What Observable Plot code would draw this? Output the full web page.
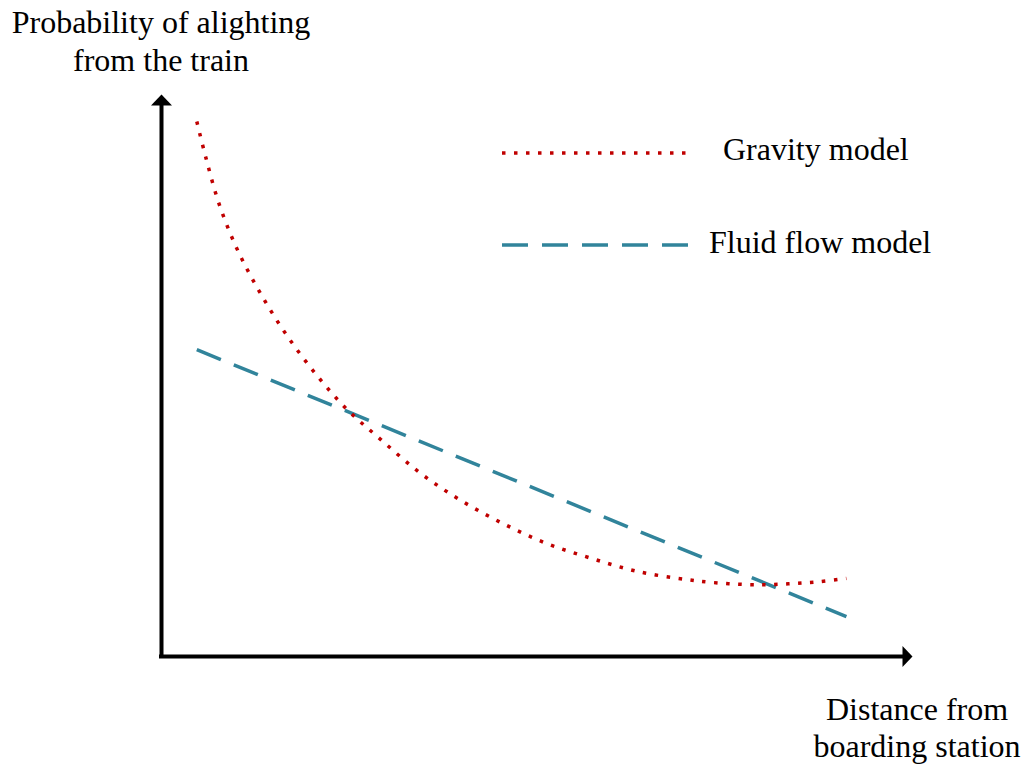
<!DOCTYPE html>
<html>
<head>
<meta charset="utf-8">
<script src="https://cdn.jsdelivr.net/npm/d3@7"></script>
<script src="https://cdn.jsdelivr.net/npm/@observablehq/plot@0.6"></script>
<style>
  html, body { margin: 0; padding: 0; background: #ffffff; }
  #chart { width: 1027px; height: 771px; overflow: hidden; }
</style>
</head>
<body>
<div id="chart"></div>
<script>
// ---- Data (abstract units, 0..100 on both axes) ----
const gravityX = [4.7, 5.9, 7.7, 10.1, 13.1, 16.5, 20.4, 24.6, 29.2, 34.4, 39.7, 45.4, 51.3, 57.4, 63.5, 69.9, 73.1, 78.0, 81.2, 84.4, 87.6, 91.2];
const gravityY = [95.2, 88.8, 80.4, 72.4, 64.8, 57.5, 50.5, 44.1, 38.6, 32.7, 27.9, 23.7, 20.1, 17.4, 15.1, 13.7, 13.2, 12.8, 12.8, 13.0, 13.3, 13.9];
const fluidX = [4.7, 91.2];
const fluidY = [54.6, 7.1];
const seriesNames = ["Gravity model", "Fluid flow model"];
const yTitleLines = ["Probability of alighting", "from the train"];
const xTitleLines = ["Distance from", "boarding station"];

// ---- Styles ----
const RED = "#C00000";
const TEAL = "#31849B";
const FONT = "'Liberation Serif', 'Times New Roman', serif";
const FS = 32;

const gravity = gravityX.map((x, i) => ({x, y: gravityY[i]}));
const fluid = fluidX.map((x, i) => ({x, y: fluidY[i]}));

const arrowUp = {draw(ctx) { ctx.moveTo(0, 0); ctx.lineTo(10.5, 11); ctx.lineTo(-10.5, 11); ctx.closePath(); }};
const arrowRight = {draw(ctx) { ctx.moveTo(0, 0); ctx.lineTo(-10, -10.5); ctx.lineTo(-10, 10.5); ctx.closePath(); }};

const chart = Plot.plot({
  width: 1027,
  height: 771,
  marginTop: 0, marginRight: 0, marginBottom: 0, marginLeft: 0,
  style: {background: "#ffffff", overflow: "visible"},
  x: {domain: [0, 100], range: [161, 912], axis: null},
  y: {domain: [0, 100], range: [656, 94], axis: null},
  marks: [
    Plot.ruleX([0], {y1: 0, y2: 98, stroke: "black", strokeWidth: 4, strokeLinecap: "square"}),
    Plot.ruleY([0], {x1: 0, x2: 98.9, stroke: "black", strokeWidth: 4, strokeLinecap: "square"}),
    Plot.dot([{x: 0, y: 100}], {x: "x", y: "y", r: 6, symbol: arrowUp, fill: "black", stroke: "none"}),
    Plot.dot([{x: 100, y: 0}], {x: "x", y: "y", r: 6, symbol: arrowRight, fill: "black", stroke: "none"}),
    Plot.line(fluid, {x: "x", y: "y", stroke: TEAL, strokeWidth: 3.5, strokeDasharray: "26,14", strokeLinecap: "butt"}),
    Plot.line(gravity, {x: "x", y: "y", curve: "catmull-rom", stroke: RED, strokeWidth: 3.5, strokeDasharray: "3.5,8.5", strokeLinecap: "butt"})
  ]
});

document.getElementById("chart").appendChild(chart);

// ---- Titles and legend ----
const svg = d3.select(chart);
const textStyle = sel => sel.style("font-family", FONT).style("font-size", FS + "px").attr("fill", "black");

svg.append("g").selectAll("text").data(yTitleLines).join("text")
  .call(textStyle)
  .attr("text-anchor", "middle")
  .attr("x", 161)
  .attr("y", (d, i) => 33 + i * 38)
  .text(d => d);

svg.append("g").selectAll("text").data(xTitleLines).join("text")
  .call(textStyle)
  .attr("text-anchor", "middle")
  .attr("x", 917)
  .attr("y", (d, i) => 720 + i * 37)
  .text(d => d);

const legendItems = [
  {name: seriesNames[0], color: RED, dash: "3.5,8.5", ly: 153, x2: 687, tx: 723, ty: 160},
  {name: seriesNames[1], color: TEAL, dash: "26,14", ly: 245, x2: 690, tx: 709, ty: 253}
];
const lg = svg.append("g");
legendItems.forEach(it => {
  lg.append("line")
    .attr("x1", 502).attr("x2", it.x2).attr("y1", it.ly).attr("y2", it.ly)
    .attr("stroke", it.color).attr("stroke-width", 3.5)
    .attr("stroke-dasharray", it.dash).attr("stroke-linecap", "butt");
  lg.append("text").call(textStyle)
    .attr("text-anchor", "start")
    .attr("x", it.tx).attr("y", it.ty).text(it.name);
});
</script>
</body>
</html>
